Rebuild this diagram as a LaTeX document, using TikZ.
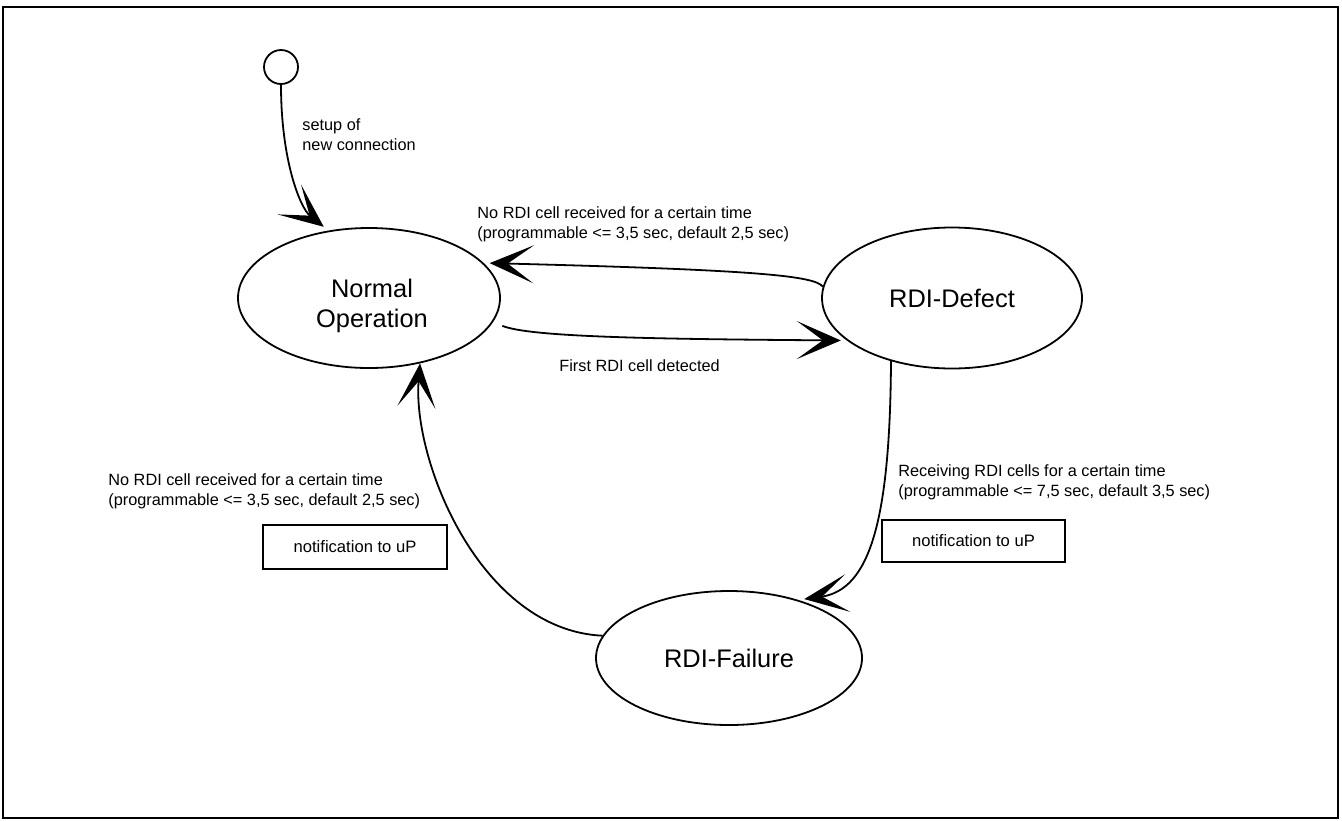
\documentclass[tikz,border=0pt]{standalone}
\usepackage{fontspec}
\setmainfont{Liberation Sans}
\usetikzlibrary{arrows.meta,shapes.geometric}
\begin{document}
\begin{tikzpicture}[x=0.5pt,y=-0.5pt,
  state/.style={draw, ellipse, line width=0.9pt, inner sep=0pt, align=center,
    font=\fontsize{12.7}{15}\selectfont},
  statetext/.style={inner sep=0pt, align=center, font=\fontsize{12.7}{15}\selectfont},
  lbl/.style={inner sep=0pt, align=left, anchor=base west, font=\fontsize{8.15}{10}\selectfont},
  note/.style={draw, line width=0.8pt, inner sep=0pt, font=\fontsize{8.3}{10}\selectfont},
  trans/.style={line width=0.9pt, -{Stealth[length=22pt,width=19pt,inset=13pt]}}]
\useasboundingbox (0,0) rectangle (1342,820);
\draw[line width=1pt] (3,7) rectangle (1338,818);

% states
\node[draw, circle, line width=0.9pt, minimum size=17pt, inner sep=0pt] (start) at (281,67) {};
\node[state, minimum width=131pt, minimum height=70pt] (normal) at (369,298) {};
\node[statetext] (normaltext) at (372,306) {Normal\\Operation};
\node[state, minimum width=130pt, minimum height=70.5pt] (defect) at (952,298) {RDI-Defect};
\node[state, minimum width=133pt, minimum height=67pt] (failure) at (729,658) {RDI-Failure};

% notes
\node[note, minimum width=92pt, minimum height=22pt] (note1) at (355,547) {notification to uP};
\node[note, minimum width=91.5pt, minimum height=21pt] (note2) at (973.5,541) {notification to uP};

% transitions
\draw[trans, shorten >=3pt] (start.south) .. controls (281,160) and (300,208) .. (normal.121.5);
\draw[trans, shorten <=5pt, shorten >=3pt] (normal.-11.6) .. controls (530,337) and (650,339) .. (defect.202);
\draw[trans, shorten >=3pt] (defect.175) .. controls (815,276) and (760,270) .. (normal.17.2);
\draw[trans, shorten >=3pt] (defect.226) .. controls (890,520) and (870,590) .. (failure.40);
\draw[trans] (failure.170.6) .. controls (480,630) and (412,460) .. (normal.-52.9);

% labels (base anchor = last line's baseline)
\node[lbl] (l0) at (302,150) {setup of\\new connection};
\node[lbl] (l1) at (477,238) {No RDI cell received for a certain time\\(programmable <= 3,5 sec, default 2,5 sec)};
\node[lbl] (l2) at (559,371) {First RDI cell detected};
\node[lbl] (l3) at (108,505) {No RDI cell received for a certain time\\(programmable <= 3,5 sec, default 2,5 sec)};
\node[lbl] (l4) at (898,496) {Receiving RDI cells for a certain time\\(programmable <= 7,5 sec, default 3,5 sec)};
\end{tikzpicture}
\end{document}
